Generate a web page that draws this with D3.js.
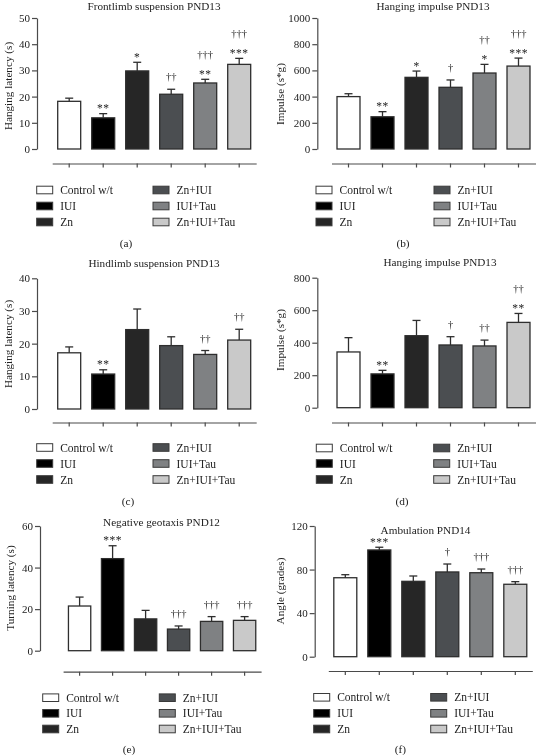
<!DOCTYPE html>
<html>
<head>
<meta charset="utf-8">
<script src="https://cdn.jsdelivr.net/npm/d3@7"></script>
<style>
  html, body { margin: 0; padding: 0; background: #fff; }
  svg { display: block; will-change: transform; }
  text { font-family: "Liberation Serif", "Times New Roman", serif; fill: #222; }
</style>
</head>
<body>
<svg id="chart" width="536" height="755"></svg>
<script>
// ---------------- data ----------------
const groups = ["Control w/t", "IUI", "Zn", "Zn+IUI", "IUI+Tau", "Zn+IUI+Tau"];
const groupColors = ["#ffffff", "#000000", "#262626", "#4b4e51", "#7f8183", "#c9c9c9"];

// (a) Frontlimb suspension PND13 — hanging latency (s)
const frontMean = [18.2, 11.9, 29.8, 20.9, 25.2, 32.3];
const frontErr = [1.2, 1.6, 3.3, 1.9, 1.4, 2.3];
const frontStars = ["", "**", "*", "", "**", "***"];
const frontDaggers = ["", "", "", "††", "†††", "†††"];
const frontTicks = [0, 10, 20, 30, 40, 50];

// (b) Hanging impulse PND13 (forelimb) — impulse (s*g)
const impFrontMean = [400, 246, 547, 471, 580, 633];
const impFrontErr = [22, 39, 48, 56, 66, 61];
const impFrontStars = ["", "**", "*", "", "*", "***"];
const impFrontDaggers = ["", "", "", "†", "††", "†††"];
const impFrontTicks = [0, 200, 400, 600, 800, 1000];

// (c) Hindlimb suspension PND13 — hanging latency (s)
const hindMean = [17.2, 10.7, 24.3, 19.4, 16.7, 21.1];
const hindErr = [1.8, 1.3, 6.3, 2.7, 1.2, 3.3];
const hindStars = ["", "**", "", "", "", ""];
const hindDaggers = ["", "", "", "", "††", "††"];
const hindTicks = [0, 10, 20, 30, 40];

// (d) Hanging impulse PND13 (hindlimb) — impulse (s*g)
const impHindMean = [343, 208, 443, 386, 380, 525];
const impHindErr = [88, 22, 94, 51, 36, 55];
const impHindStars = ["", "**", "", "", "", "**"];
const impHindDaggers = ["", "", "", "†", "††", "††"];
const impHindTicks = [0, 200, 400, 600, 800];

// (e) Negative geotaxis PND12 — turning latency (s)
const geoMean = [21.5, 44.3, 15.3, 10.4, 14.1, 14.6];
const geoErr = [4.3, 6.2, 4.1, 1.5, 2.3, 1.8];
const geoStars = ["", "***", "", "", "", ""];
const geoDaggers = ["", "", "", "†††", "†††", "†††"];
const geoTicks = [0, 20, 40, 60];

// (f) Ambulation PND14 — angle (grades)
const ambMean = [72.5, 98.0, 69.2, 77.8, 77.1, 66.5];
const ambErr = [2.8, 2.5, 4.9, 7.3, 3.4, 2.4];
const ambStars = ["", "***", "", "", "", ""];
const ambDaggers = ["", "", "", "†", "†††", "†††"];
const ambTicks = [0, 40, 80, 120];

// ---------------- layout (pixels) ----------------
const panels = [
  { mean: frontMean, err: frontErr, stars: frontStars, daggers: frontDaggers, ticks: frontTicks,
    title: "Frontlimb suspension PND13", ylabel: "Hanging latency (s)", caption: "(a)",
    axisX: 37, y0: 149, yTop: 18, bandX: [52.2, 256.2], xAxisY: 163.5,
    titleX: 154, titleY: 9.5, ylabX: 8, ylabY: 86,
    legY: [190, 206, 222], legX: [36.7, 153], capX: 126, capY: 247 },
  { mean: impFrontMean, err: impFrontErr, stars: impFrontStars, daggers: impFrontDaggers, ticks: impFrontTicks,
    title: "Hanging impulse PND13", ylabel: "Impulse (s*g)", caption: "(b)",
    axisX: 317.3, y0: 149, yTop: 18, bandX: [331.5, 535.5], xAxisY: 163.5,
    titleX: 433, titleY: 9.5, ylabX: 280, ylabY: 94,
    legY: [190, 206, 222], legX: [316, 434], capX: 403, capY: 247 },
  { mean: hindMean, err: hindErr, stars: hindStars, daggers: hindDaggers, ticks: hindTicks,
    title: "Hindlimb suspension PND13", ylabel: "Hanging latency (s)", caption: "(c)",
    axisX: 37, y0: 409, yTop: 278.3, bandX: [52.2, 256.2], xAxisY: 422.5,
    titleX: 154, titleY: 267, ylabX: 8, ylabY: 344,
    legY: [447.5, 463.5, 479.5], legX: [36.7, 153], capX: 128, capY: 505 },
  { mean: impHindMean, err: impHindErr, stars: impHindStars, daggers: impHindDaggers, ticks: impHindTicks,
    title: "Hanging impulse PND13", ylabel: "Impulse (s*g)", caption: "(d)",
    axisX: 317.3, y0: 407.7, yTop: 277.7, bandX: [331.5, 535.5], xAxisY: 422.5,
    titleX: 440, titleY: 266, ylabX: 280, ylabY: 340,
    legY: [448, 463.5, 479.5], legX: [316.3, 433.7], capX: 402, capY: 505 },
  { mean: geoMean, err: geoErr, stars: geoStars, daggers: geoDaggers, ticks: geoTicks,
    title: "Negative geotaxis PND12", ylabel: "Turning latency (s)", caption: "(e)",
    axisX: 40, y0: 650.7, yTop: 526, bandX: [63.1, 261.1], xAxisY: 671.7,
    titleX: 161.5, titleY: 526, ylabX: 10, ylabY: 588,
    legY: [697.7, 713.3, 729], legX: [42.7, 159.3], capX: 129, capY: 753 },
  { mean: ambMean, err: ambErr, stars: ambStars, daggers: ambDaggers, ticks: ambTicks,
    title: "Ambulation PND14", ylabel: "Angle (grades)", caption: "(f)",
    axisX: 314.7, y0: 656.7, yTop: 526, bandX: [328.3, 532.3], xAxisY: 671,
    titleX: 425.5, titleY: 533.5, ylabX: 280, ylabY: 591,
    legY: [697.3, 713.3, 729], legX: [313.7, 430.7], capX: 400.5, capY: 753 }
];

const svg = d3.select("#chart");
const axisColor = "#4a4a4a";
const annColor = "#8a8a8a";

panels.forEach(p => {
  const g = svg.append("g");
  const yMax = p.ticks[p.ticks.length - 1];
  const y = d3.scaleLinear().domain([0, yMax]).range([p.y0, p.yTop]);
  const x = d3.scaleBand().domain(groups).range(p.bandX)
    .paddingInner(0.324).paddingOuter(0.162);

  // title
  g.append("text").attr("x", p.titleX).attr("y", p.titleY)
    .attr("text-anchor", "middle").attr("font-size", 11.2).text(p.title);

  // y axis
  const yAxis = g.append("g").attr("transform", `translate(${p.axisX},0)`)
    .call(d3.axisLeft(y).tickValues(p.ticks).tickFormat(d3.format("d"))
      .tickSize(5).tickSizeOuter(0).tickPadding(2));
  yAxis.select(".domain").attr("stroke", axisColor).attr("stroke-width", 1.2);
  yAxis.selectAll(".tick line").attr("stroke", axisColor).attr("stroke-width", 1.2);
  yAxis.selectAll(".tick text").attr("font-family", "Liberation Serif, serif")
    .attr("font-size", 11).attr("fill", "#222");

  // y label
  g.append("text").attr("transform", `translate(${p.ylabX},${p.ylabY}) rotate(-90)`)
    .attr("text-anchor", "middle").attr("dominant-baseline", "central")
    .attr("font-size", 11.2).text(p.ylabel);

  // bars
  g.selectAll("rect.bar").data(groups).join("rect").attr("class", "bar")
    .attr("x", d => x(d)).attr("width", x.bandwidth())
    .attr("y", (d, i) => y(p.mean[i]))
    .attr("height", (d, i) => y(0) - y(p.mean[i]))
    .attr("fill", (d, i) => groupColors[i])
    .attr("stroke", "#2e2e2e").attr("stroke-width", 1.3);

  // error bars (upper only)
  const capW = 8;
  groups.forEach((d, i) => {
    const cx = x(d) + x.bandwidth() / 2;
    const top = y(p.mean[i] + p.err[i]);
    g.append("line").attr("x1", cx).attr("x2", cx)
      .attr("y1", y(p.mean[i])).attr("y2", top)
      .attr("stroke", "#2e2e2e").attr("stroke-width", 1.3);
    g.append("line").attr("x1", cx - capW / 2).attr("x2", cx + capW / 2)
      .attr("y1", top).attr("y2", top)
      .attr("stroke", "#2e2e2e").attr("stroke-width", 1.3);
    // annotations
    const star = p.stars[i], dag = p.daggers[i];
    if (star) {
      g.append("text").attr("x", cx).attr("y", top - 1.5)
        .attr("text-anchor", "middle").attr("font-size", 11.5)
        .attr("fill", annColor).attr("letter-spacing", 0.5).text(star);
    }
    if (dag) {
      g.append("text").attr("x", cx).attr("y", star ? top - 21 : top - 9)
        .attr("text-anchor", "middle").attr("font-size", 10.5)
        .attr("fill", annColor).text(dag);
    }
  });

  // x axis (detached, ticks at bar centres, no labels)
  const xAxis = g.append("g").attr("transform", `translate(0,${p.xAxisY})`)
    .call(d3.axisBottom(x).tickSize(4).tickSizeOuter(0).tickFormat(""));
  xAxis.select(".domain").attr("stroke", axisColor).attr("stroke-width", 1.2);
  xAxis.selectAll(".tick line").attr("stroke", axisColor).attr("stroke-width", 1.2);

  // legend
  groups.forEach((name, i) => {
    const col = i < 3 ? 0 : 1;
    const row = i % 3;
    const lx = p.legX[col], ly = p.legY[row];
    g.append("rect").attr("x", lx).attr("y", ly - 3.8).attr("width", 16).attr("height", 7.6)
      .attr("fill", groupColors[i]).attr("stroke", "#3a3a3a").attr("stroke-width", 1);
    g.append("text").attr("x", lx + 23.5).attr("y", ly + 4)
      .attr("font-size", 11.5).text(name);
  });

  // caption
  g.append("text").attr("x", p.capX).attr("y", p.capY)
    .attr("text-anchor", "middle").attr("font-size", 11.3).text(p.caption);
});
</script>
</body>
</html>
